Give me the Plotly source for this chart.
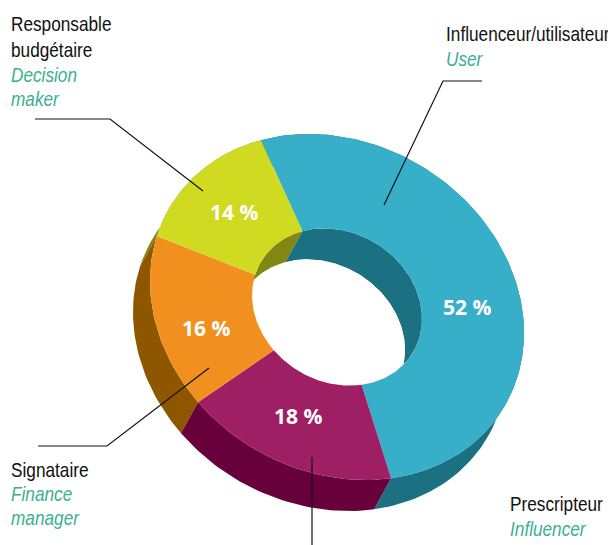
import numpy as np
import plotly.graph_objects as go

# Data
categories = ["Influenceur/utilisateur", "Prescripteur", "Signataire", "Responsable budgétaire"]
values = [52, 18, 16, 14]
percent_labels = ["52 %", "18 %", "16 %", "14 %"]
top_colors = ["#38AFC9", "#9E1F63", "#F2901F", "#D0DA21"]
side_colors = ["#1B7081", "#68003C", "#8F5600", "#82870F"]

# Projection of the tilted ring
CX, CY = 337.0, 307.0
RX, RY, RHO = 187.0, 173.0, 0.15
INNER = 0.4545
DX, DY = -17.0, 31.0
START = 246.0

def project(deg, r, dx=0.0, dy=0.0):
    t = np.radians(deg)
    u, v = r * np.cos(t), r * np.sin(t)
    return CX + RX * u + dx, CY + RY * (RHO * u + np.sqrt(1 - RHO ** 2) * v) + dy

def arc(a0, a1, r, dx=0.0, dy=0.0):
    n = max(int(abs(a1 - a0) / 1.5), 2) + 1
    return project(np.linspace(a0, a1, n), r, dx, dy)

def poly(x, y, color):
    return go.Scatter(x=np.r_[x, x[0]], y=np.r_[y, y[0]], mode="lines", fill="toself",
                      fillcolor=color, line=dict(width=0, color=color),
                      hoverinfo="skip", showlegend=False)

edges = START + np.r_[0, np.cumsum(values)] * 3.6
spans = list(zip(edges[:-1], edges[1:]))
fig = go.Figure()

# outer side walls, back to front
for i in [3, 0, 2, 1]:
    a0, a1 = spans[i]
    x0, y0 = arc(a0, a1, 1)
    x1, y1 = arc(a1, a0, 1, DX, DY)
    fig.add_trace(poly(np.r_[x0, x1], np.r_[y0, y1], side_colors[i]))

# inner walls seen through the hole
for i in [2, 1, 3, 0]:
    a0, a1 = spans[i]
    x0, y0 = arc(a0, a1, INNER)
    x1, y1 = arc(a1, a0, INNER, DX, DY)
    fig.add_trace(poly(np.r_[x0, x1], np.r_[y0, y1], side_colors[i]))

# the open bottom of the hole
hx, hy = arc(0, 360, INNER, DX, DY)
fig.add_trace(poly(hx, hy, "#FFFFFF"))

# top faces
for i, (a0, a1) in enumerate(spans):
    x0, y0 = arc(a0, a1, 1)
    x1, y1 = arc(a1, a0, INNER)
    fig.add_trace(poly(np.r_[x0, x1], np.r_[y0, y1], top_colors[i]))

# leader lines
leaders = [
    ([35, 110, 203], [119, 119, 191]),
    ([482, 443, 384], [81, 81, 205]),
    ([38, 107, 209], [446, 446, 368]),
    ([312, 312], [457, 545]),
]
for lx, ly in leaders:
    fig.add_trace(go.Scatter(x=lx, y=ly, mode="lines", line=dict(color="#111111", width=1.2),
                             hoverinfo="skip", showlegend=False))

annotations = []
pct_pos = [(467, 307), (298, 416), (206, 328), (234, 212)]
for txt, (px, py) in zip(percent_labels, pct_pos):
    annotations.append(dict(x=px, y=py, text=f"<b>{txt}</b>", showarrow=False, xanchor="center",
                            yanchor="middle", font=dict(family="Open Sans", size=21, color="#FFFFFF")))

black_lines = [("Responsable", 9, 23), ("budgétaire", 9, 49), ("Influenceur/utilisateur", 444, 33),
               ("Prescripteur", 508, 503), ("Signataire", 9, 469)]
green_lines = [("Decision", 9, 74), ("maker", 9, 98), ("User", 444, 58),
               ("Influencer", 508, 528), ("Finance", 9, 493), ("manager", 9, 517)]
for lines, color, prefix, suffix in [(black_lines, "#111111", "", ""), (green_lines, "#3DB08F", "<i>", "</i>")]:
    for txt, px, py in lines:
        annotations.append(dict(x=px, y=py, text=prefix + txt + suffix, showarrow=False, xanchor="left",
                                yanchor="middle", font=dict(family="Liberation Sans", size=21, color=color)))

# The page body has an 8px margin, so the figure covers x 8..616 and y 8..545 of the window.
fig.update_layout(
    width=608, height=537, margin=dict(l=0, r=0, t=0, b=0), autosize=False,
    paper_bgcolor="white", plot_bgcolor="white", showlegend=False, annotations=annotations,
    xaxis=dict(range=[8, 616], visible=False, fixedrange=True),
    yaxis=dict(range=[545, 8], visible=False, fixedrange=True),
)

# No condensed face is installed: narrow the label glyphs horizontally, from their left edge.
condense = """
document.getElementById('{plot_id}').querySelectorAll('.annotation-text').forEach(function (t) {
  if (t.style.fontFamily.indexOf('Liberation') < 0) return;
  var b = t.getBBox();
  t.setAttribute('transform', 'translate(' + b.x + ',0) scale(0.82,1) translate(' + (-b.x) + ',0)');
});
"""
fig.write_html("out.html", config=dict(displayModeBar=False), post_script=condense)
